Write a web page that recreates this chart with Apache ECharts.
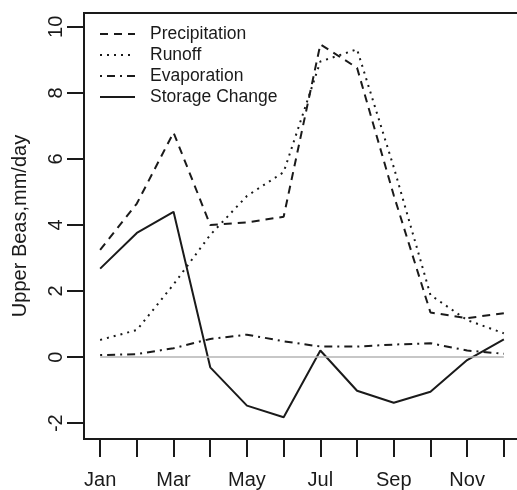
<!DOCTYPE html>
<html>
<head>
<meta charset="utf-8">
<script src="https://cdn.jsdelivr.net/npm/echarts@6/dist/echarts.min.js"></script>
<style>
html,body{margin:0;padding:0;background:#fff;}
#chart{width:517px;height:490px;}
</style>
</head>
<body>
<div id="chart"></div>
<script>
var months = ['Jan','Feb','Mar','Apr','May','Jun','Jul','Aug','Sep','Oct','Nov','Dec'];
var monthNums = [1,2,3,4,5,6,7,8,9,10,11,12];
var xLabelValues = [1,3,5,7,9,11];
var yTickValues = [-2,0,2,4,6,8,10];
var precipitation = [3.25, 4.65, 6.8, 4.0, 4.08, 4.25, 9.47, 8.76, 4.9, 1.35, 1.18, 1.33];
var runoff = [0.52, 0.82, 2.2, 3.7, 4.88, 5.6, 8.95, 9.32, 5.75, 1.88, 1.12, 0.72];
var evaporation = [0.06, 0.09, 0.27, 0.55, 0.68, 0.48, 0.32, 0.32, 0.38, 0.42, 0.2, 0.1];
var storageChange = [2.68, 3.76, 4.4, -0.31, -1.47, -1.82, 0.2, -1.02, -1.38, -1.05, -0.09, 0.54];

function pairs(arr){ return arr.map(function(v,i){ return [monthNums[i], v]; }); }

var ink = '#1a1a1a';
var font = 'Liberation Sans, Arial, Helvetica, sans-serif';

var chart = echarts.init(document.getElementById('chart'), null, {renderer:'canvas'});
chart.setOption({
  animation: false,
  backgroundColor: '#fff',
  grid: {left: 84, top: 13, width: 436, height: 426, outerBoundsMode: 'none', containLabel: false,
         show: true, borderColor: ink, borderWidth: 2, backgroundColor: 'transparent'},
  legend: {
    left: 99, top: 25, orient: 'vertical', padding: 0,
    itemWidth: 35, itemHeight: 18, itemGap: 3,
    itemStyle: {opacity: 0, color: 'transparent', borderWidth: 0},
    textStyle: {fontFamily: font, fontSize: 17.5, color: ink, padding: [0,0,0,10]},
    data: ['Precipitation','Runoff','Evaporation','Storage Change']
  },
  xAxis: {
    type: 'value', min: 0.56, max: 12.44,
    axisLine: {show: false, onZero: false},
    splitLine: {show: false},
    axisTick: {show: true, length: 18, inside: false, customValues: monthNums, lineStyle: {color: ink, width: 2}},
    axisLabel: {show: true, margin: 31, fontFamily: font, fontSize: 20, color: ink, customValues: xLabelValues,
      formatter: function(v){ return months[Math.round(v)-1]; }}
  },
  yAxis: {
    type: 'value', min: -2.48, max: 10.42,
    name: 'Upper Beas,mm/day', nameLocation: 'middle', nameRotate: 90, nameGap: 54,
    nameTextStyle: {fontFamily: font, fontSize: 20, color: ink},
    axisLine: {show: false, onZero: false},
    splitLine: {show: false},
    axisTick: {show: true, length: 17, inside: false, customValues: yTickValues, lineStyle: {color: ink, width: 2}},
    axisLabel: {show: true, rotate: 90, margin: 18, fontFamily: font, fontSize: 20, color: ink, customValues: yTickValues}
  },
  series: [
    {name: 'Precipitation', type: 'line', data: pairs(precipitation), symbol: 'none', itemStyle: {color: ink},
     lineStyle: {color: ink, width: 2, type: [8, 6]}, z: 3,
     markLine: {silent: true, symbol: 'none', label: {show: false},
       lineStyle: {color: '#b4b4b4', width: 1.5, type: 'solid'},
       data: [[{coord: [monthNums[0], 0]}, {coord: [monthNums[11], 0]}]]}},
    {name: 'Runoff', type: 'line', data: pairs(runoff), symbol: 'none', itemStyle: {color: ink},
     lineStyle: {color: ink, width: 2, type: [2, 5]}, z: 3},
    {name: 'Evaporation', type: 'line', data: pairs(evaporation), symbol: 'none', itemStyle: {color: ink},
     lineStyle: {color: ink, width: 2, type: [2, 5, 8, 5]}, z: 3},
    {name: 'Storage Change', type: 'line', data: pairs(storageChange), symbol: 'none', itemStyle: {color: ink},
     lineStyle: {color: ink, width: 2, type: 'solid'}, z: 3}
  ]
});
</script>
</body>
</html>
